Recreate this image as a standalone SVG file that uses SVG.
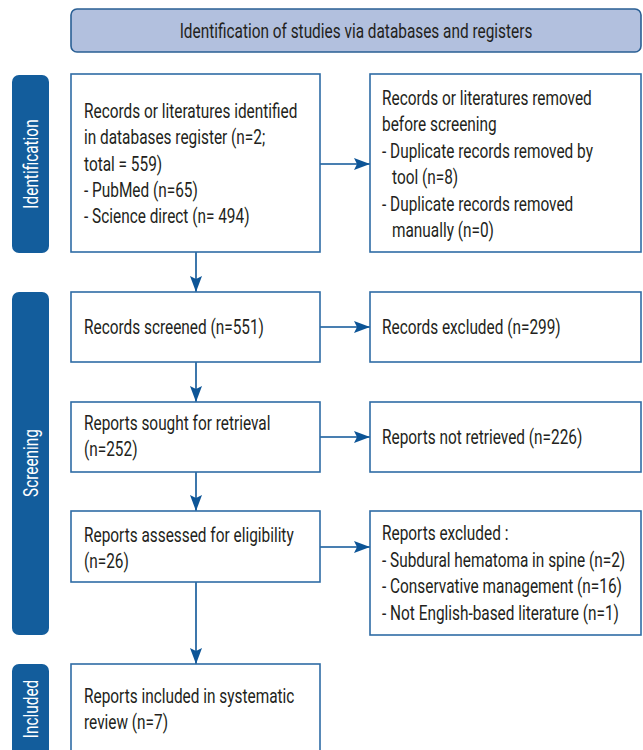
<svg xmlns="http://www.w3.org/2000/svg" width="643" height="750" viewBox="0 0 643 750">
<defs>
<style>
.box{fill:#ffffff;stroke:#2f6ca5;stroke-width:1.6}
.hdr{fill:#b2c0de;stroke:#2a5f94;stroke-width:1.6}
.side{fill:#135d9c}
.t{font-family:Roboto,"Liberation Sans",sans-serif;font-size:20px;fill:#231f20}
.st{font-family:Roboto,"Liberation Sans",sans-serif;font-size:20px;fill:#ffffff;text-anchor:middle}
.c{stroke:#0d5597;stroke-width:1.6;fill:none}
</style>
<marker id="ah" markerUnits="userSpaceOnUse" markerWidth="16" markerHeight="12" refX="16" refY="6" orient="auto">
<path d="M0,0 L16,6 L0,12 L3,6 Z" fill="#0d5597"/>
</marker>
</defs>

<g id="header">
<rect class="hdr" x="71" y="9" width="570" height="43" rx="6"/>
<text class="t" text-anchor="middle" transform="translate(356,38) scale(0.77,1)">Identification of studies via databases and registers</text>
</g>

<g id="side-identification">
<rect class="side" x="12" y="75" width="37" height="178" rx="7"/>
<text class="st" transform="translate(38,164) rotate(-90) scale(0.77,1)">Identification</text>
</g>
<g id="side-screening">
<rect class="side" x="12" y="292" width="37" height="343" rx="7"/>
<text class="st" transform="translate(38,463) rotate(-90) scale(0.77,1)">Screening</text>
</g>
<g id="side-included">
<rect class="side" x="12" y="664" width="37" height="100" rx="7"/>
<text class="st" transform="translate(38,709) rotate(-90) scale(0.77,1)">Included</text>
</g>

<g id="connectors">
<line class="c" x1="320" y1="164" x2="370" y2="164" marker-end="url(#ah)"/>
<line class="c" x1="196" y1="252" x2="196" y2="292" marker-end="url(#ah)"/>
<line class="c" x1="320" y1="327" x2="370" y2="327" marker-end="url(#ah)"/>
<line class="c" x1="196" y1="362" x2="196" y2="402" marker-end="url(#ah)"/>
<line class="c" x1="320" y1="437" x2="370" y2="437" marker-end="url(#ah)"/>
<line class="c" x1="196" y1="472" x2="196" y2="511" marker-end="url(#ah)"/>
<line class="c" x1="320" y1="547" x2="370" y2="547" marker-end="url(#ah)"/>
<line class="c" x1="196" y1="582" x2="196" y2="664" marker-end="url(#ah)"/>
</g>

<g id="identified">
<rect class="box" x="71" y="74" width="249" height="178"/>
<text class="t" transform="translate(84,118) scale(0.77,1)">
<tspan x="0" y="0">Records or literatures identified</tspan>
<tspan x="0" y="26.3">in databases register (n=2;</tspan>
<tspan x="0" y="52.6">total = 559)</tspan>
<tspan x="0" y="78.9">- PubMed (n=65)</tspan>
<tspan x="0" y="105.2">- Science direct (n= 494)</tspan>
</text>
</g>

<g id="removed">
<rect class="box" x="370" y="74" width="271" height="178"/>
<text class="t" transform="translate(382,105) scale(0.77,1)">
<tspan x="0" y="0">Records or literatures removed</tspan>
<tspan x="0" y="26.5">before screening</tspan>
<tspan x="0" y="53">- Duplicate records removed by</tspan>
<tspan x="13" y="79.5">tool (n=8)</tspan>
<tspan x="0" y="106">- Duplicate records removed</tspan>
<tspan x="13" y="132.5">manually (n=0)</tspan>
</text>
</g>

<g id="screened">
<rect class="box" x="71" y="292" width="249" height="70"/>
<text class="t" transform="translate(84,334) scale(0.77,1)">Records screened (n=551)</text>
</g>
<g id="excluded">
<rect class="box" x="370" y="292" width="271" height="70"/>
<text class="t" transform="translate(382,334) scale(0.77,1)">Records excluded (n=299)</text>
</g>

<g id="sought">
<rect class="box" x="71" y="402" width="249" height="70"/>
<text class="t" transform="translate(84,430) scale(0.77,1)">
<tspan x="0" y="0">Reports sought for retrieval</tspan>
<tspan x="0" y="26.5">(n=252)</tspan>
</text>
</g>
<g id="not-retrieved">
<rect class="box" x="370" y="402" width="271" height="70"/>
<text class="t" transform="translate(382,444) scale(0.77,1)">Reports not retrieved (n=226)</text>
</g>

<g id="assessed">
<rect class="box" x="71" y="511" width="249" height="71"/>
<text class="t" transform="translate(84,542) scale(0.77,1)">
<tspan x="0" y="0">Reports assessed for eligibility</tspan>
<tspan x="0" y="26.5">(n=26)</tspan>
</text>
</g>
<g id="reports-excluded">
<rect class="box" x="370" y="511" width="271" height="124"/>
<text class="t" transform="translate(382,540) scale(0.77,1)">
<tspan x="0" y="0">Reports excluded :</tspan>
<tspan x="0" y="26.7">- Subdural hematoma in spine (n=2)</tspan>
<tspan x="0" y="53.4">- Conservative management (n=16)</tspan>
<tspan x="0" y="80.1">- Not English-based literature (n=1)</tspan>
</text>
</g>

<g id="included">
<rect class="box" x="71" y="664" width="249" height="100"/>
<text class="t" transform="translate(84,703) scale(0.77,1)">
<tspan x="0" y="0">Reports included in systematic</tspan>
<tspan x="0" y="26.5">review (n=7)</tspan>
</text>
</g>
</svg>
